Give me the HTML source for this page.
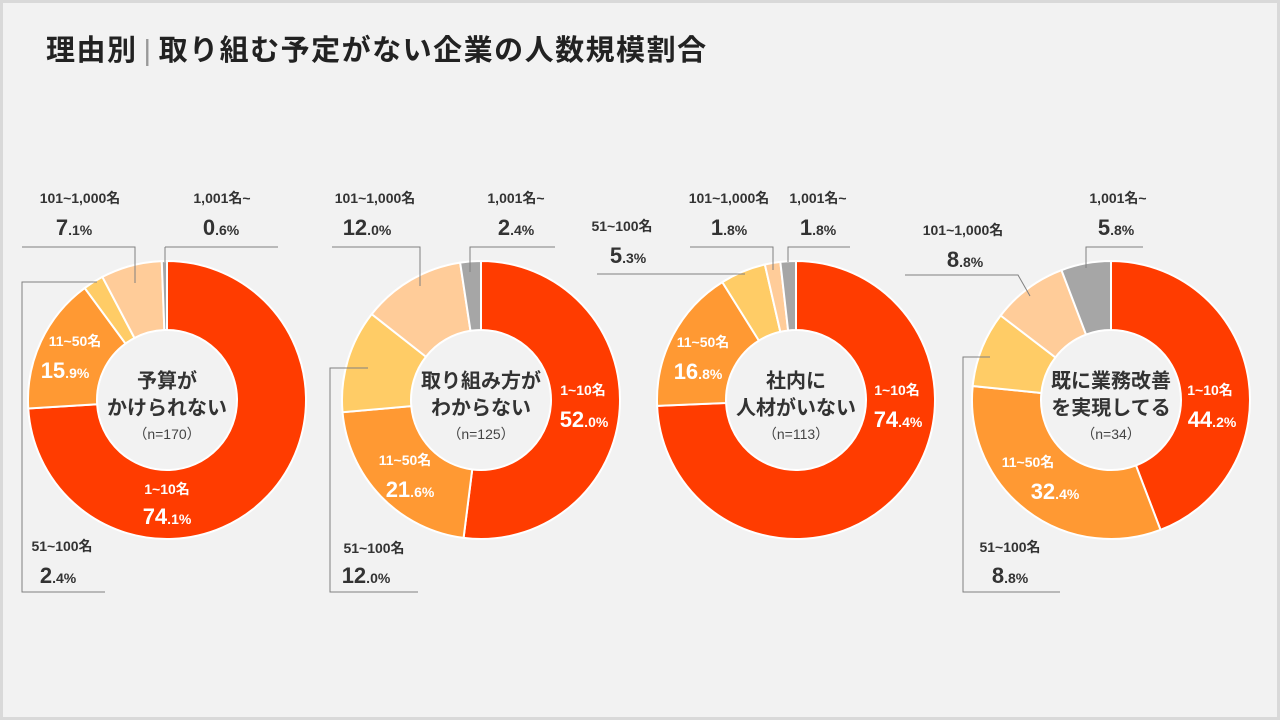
<!DOCTYPE html>
<html><head><meta charset="utf-8">
<style>
html,body{margin:0;padding:0}
body{width:1280px;height:720px;background:#f2f2f2;position:relative;overflow:hidden;font-family:"Liberation Sans","Noto Sans CJK JP",sans-serif;color:#333}
#frame{position:absolute;left:0;top:0;width:1274px;height:714px;border:3px solid #d9d9d9}
#title{position:absolute;left:46px;top:27px;font-size:29px;font-weight:bold;color:#222;letter-spacing:1.5px;white-space:nowrap}
#title .sep{color:#999;font-weight:normal;margin:0 6px}
svg{position:absolute;left:0;top:0}
.lbl{position:absolute;transform:translate(-50%,-50%);white-space:nowrap;font-weight:bold;text-align:center}
.cat{font-size:14px;color:#333}
.pct{font-size:22px;color:#333}
.pct small{font-size:14px}
.w{color:#fff}
.ctr{font-size:20px;color:#333}
.n{font-size:14px;font-weight:normal;color:#444}
</style></head><body>
<div id="frame"></div>
<div id="title">理由別<span class="sep">|</span>取り組む予定がない企業の人数規模割合</div>
<svg id="chart" width="1280" height="720"></svg>
<div id="labels"></div>
<script>
const categories = ["1~10名","11~50名","51~100名","101~1,000名","1,001名~"];
const reasons = ["予算がかけられない","取り組み方がわからない","社内に人材がいない","既に業務改善を実現してる"];
const sampleSizes = [170,125,113,34];
const valuesBudget = [74.1,15.9,2.4,7.1,0.6];
const valuesHowTo = [52.0,21.6,12.0,12.0,2.4];
const valuesStaff = [74.4,16.8,5.3,1.8,1.8];
const valuesDone = [44.2,32.4,8.8,8.8,5.8];
const allValues = [valuesBudget,valuesHowTo,valuesStaff,valuesDone];
const colors = ["#ff3c00","#ff9933","#ffcc66","#ffcc99","#a6a6a6"];
const centers = [[167,400],[481,400],[796,400],[1111,400]];
const R = 139, RI = 70;
const NS = "http://www.w3.org/2000/svg";
const svg = document.getElementById('chart');
function pt(cx,cy,r,a){return [cx+r*Math.sin(a), cy-r*Math.cos(a)];}
allValues.forEach((vals,ci)=>{
  const [cx,cy] = centers[ci];
  const tot = vals.reduce((a,b)=>a+b,0);
  let a0 = 0;
  vals.forEach((v,i)=>{
    const a1 = a0 + v/tot*2*Math.PI;
    const p1=pt(cx,cy,R,a0),p2=pt(cx,cy,R,a1),p3=pt(cx,cy,RI,a1),p4=pt(cx,cy,RI,a0);
    const lg = (a1-a0)>Math.PI?1:0;
    const p = document.createElementNS(NS,'path');
    p.setAttribute('d',`M${p1[0]},${p1[1]} A${R},${R} 0 ${lg} 1 ${p2[0]},${p2[1]} L${p3[0]},${p3[1]} A${RI},${RI} 0 ${lg} 0 ${p4[0]},${p4[1]} Z`);
    p.setAttribute('fill',colors[i]);
    p.setAttribute('stroke','#fff');
    p.setAttribute('stroke-width','2');
    
    
    svg.appendChild(p);
    a0 = a1;
  });
});
const lines = [
 "22,247 135,247 135,283","165,247 278,247","165,247 165,262","97,282 22,282 22,592 105,592",
 "332,247 420,247 420,286","555,247 470,247 470,272","368,368 330,368 330,592 418,592",
 "597,274 745,274","690,247 773,247 773,270","850,247 788,247 788,262",
 "905,275 1018,275 1030,296","1143,247 1086,247 1086,268","990,357 963,357 963,592 1060,592"
];
lines.forEach(l=>{
  const e=document.createElementNS(NS,'polyline');
  e.setAttribute('points',l);e.setAttribute('fill','none');e.setAttribute('stroke','#808080');e.setAttribute('stroke-width','1');
  
  
  svg.appendChild(e);
});
const labelPos = [
 [0,3,80,198,74,228,0],[0,4,222,198,221,228,0],[0,2,62,546,58,576,0],[0,1,75,341,65,371,1],[0,0,167,489,167,517,1],
 [1,3,375,198,367,228,0],[1,4,516,198,516,228,0],[1,2,374,548,366,576,0],[1,1,405,460,410,490,1],[1,0,583,390,584,420,1],
 [2,2,622,226,628,256,0],[2,3,729,198,729,228,0],[2,4,818,198,818,228,0],[2,1,703,342,698,372,1],[2,0,897,390,898,420,1],
 [3,3,963,230,965,260,0],[3,4,1118,198,1116,228,0],[3,2,1010,547,1010,576,0],[3,1,1028,462,1055,492,1],[3,0,1210,390,1212,420,1]
];
const L = document.getElementById('labels');
function add(html,x,y,cls,name){
  const d=document.createElement('div');d.className='lbl '+cls;d.style.left=x+'px';d.style.top=y+'px';d.innerHTML=html;
  
  
  L.appendChild(d);
}
labelPos.forEach(([c,i,x1,y1,x2,y2,w])=>{
  const v=allValues[c][i].toFixed(1).split('.');
  add(categories[i],x1,y1,'cat'+(w?' w':''),'category-label');
  add(v[0]+'<small>.'+v[1]+'%</small>',x2,y2,'pct'+(w?' w':''),'percent-label');
});
const centerLines=[["予算が","かけられない"],["取り組み方が","わからない"],["社内に","人材がいない"],["既に業務改善","を実現してる"]];
centerLines.forEach((cl,ci)=>{
  const [cx]=centers[ci];
  add(cl[0],cx,379,'ctr','center-label-line1');
  add(cl[1],cx,406,'ctr','center-label-line2');
  add('（n='+sampleSizes[ci]+'）',cx,434,'n','sample-size');
});
</script>
</body></html>
